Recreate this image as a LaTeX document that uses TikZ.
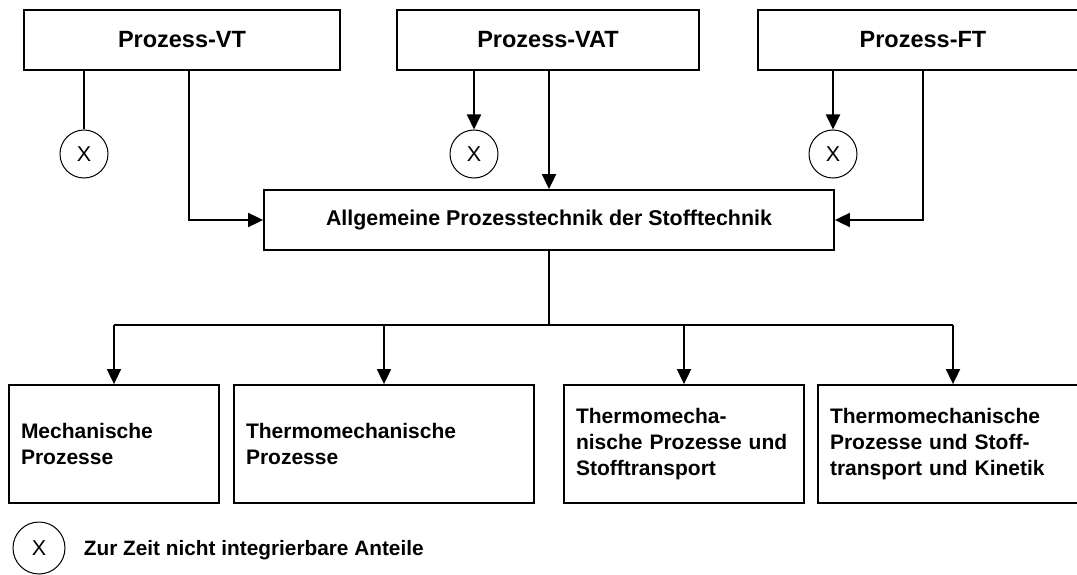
\documentclass[tikz,border=0pt]{standalone}
\usepackage{fontspec}
\setmainfont{Liberation Sans}
\usetikzlibrary{arrows.meta}
\begin{document}
\begin{tikzpicture}[x=1pt,y=-1pt,
  line width=1.8pt,
  box/.style={draw, rectangle, inner sep=0pt, line width=1.8pt},
  topbox/.style={box, minimum height=60pt, font=\fontsize{23.5}{28}\selectfont\bfseries},
  leafbox/.style={box, minimum height=118pt, inner xsep=12pt, align=left,
    font=\fontsize{21}{26}\selectfont\bfseries},
  xcirc/.style={draw, circle, line width=1pt, inner sep=0pt, minimum size=48pt,
    font=\fontsize{21.5}{24}\selectfont},
  arr/.style={-{Triangle[width=14pt,length=15pt]}}]
\useasboundingbox (0,0) rectangle (1077,575);
\clip (0,0) rectangle (1077,575);

% source processes
\node[topbox, minimum width=316pt] (vt)  at (182,40) {Prozess-VT};
\node[topbox, minimum width=302pt] (vat) at (548,40) {Prozess-VAT};
\node[topbox, minimum width=330pt] (ft)  at (923,40) {Prozess-FT};

% non-integrable parts
\node[xcirc] (c1) at (84,154)  {X};
\node[xcirc] (c2) at (474,154) {X};
\node[xcirc] (c3) at (833,154) {X};

% common process engineering
\node[box, minimum width=570pt, minimum height=60pt,
  font=\fontsize{21.4}{26}\selectfont\bfseries] (main) at (549,220)
  {Allgemeine Prozesstechnik der Stofftechnik};

% branches
\node[leafbox, text width=186pt] (m1) at (114,444) {Mechanische\\Prozesse};
\node[leafbox, text width=276pt] (m2) at (384,444) {Thermomechanische\\Prozesse};
\node[leafbox, text width=216pt] (m3) at (684,444) {Thermomecha-\\nische Prozesse und\\Stofftransport};
\node[leafbox, text width=246pt] (m4) at (953,444) {Thermomechanische\\Prozesse und Stoff-\\transport und Kinetik};

% legend
\node[xcirc, minimum size=52pt] (lc) at (39,548) {X};
\node[anchor=base west, inner sep=0pt, font=\fontsize{20.8}{24}\selectfont\bfseries]
  (lt) at (83,555) {Zur Zeit nicht integrierbare Anteile};

% connectors from the source processes
\coordinate (vtx) at (189,0);
\coordinate (split) at (549,325);
\draw (c1.north |- vt.south) -- (c1.north);
\draw[arr] (vt.south -| vtx) |- (main.west);
\draw[arr] (c2.north |- vat.south) -- (c2.north);
\draw[arr] (main.north |- vat.south) -- (main.north);
\draw[arr] (c3.north |- ft.south) -- (c3.north);
\draw[arr] (ft.south) |- (main.east);

% distribution to the branches
\draw (main.south) -- (split);
\draw (m1.north |- split) -- (m4.north |- split);
\draw[arr] (m1.north |- split) -- (m1.north);
\draw[arr] (m2.north |- split) -- (m2.north);
\draw[arr] (m3.north |- split) -- (m3.north);
\draw[arr] (m4.north |- split) -- (m4.north);
\end{tikzpicture}
\end{document}
